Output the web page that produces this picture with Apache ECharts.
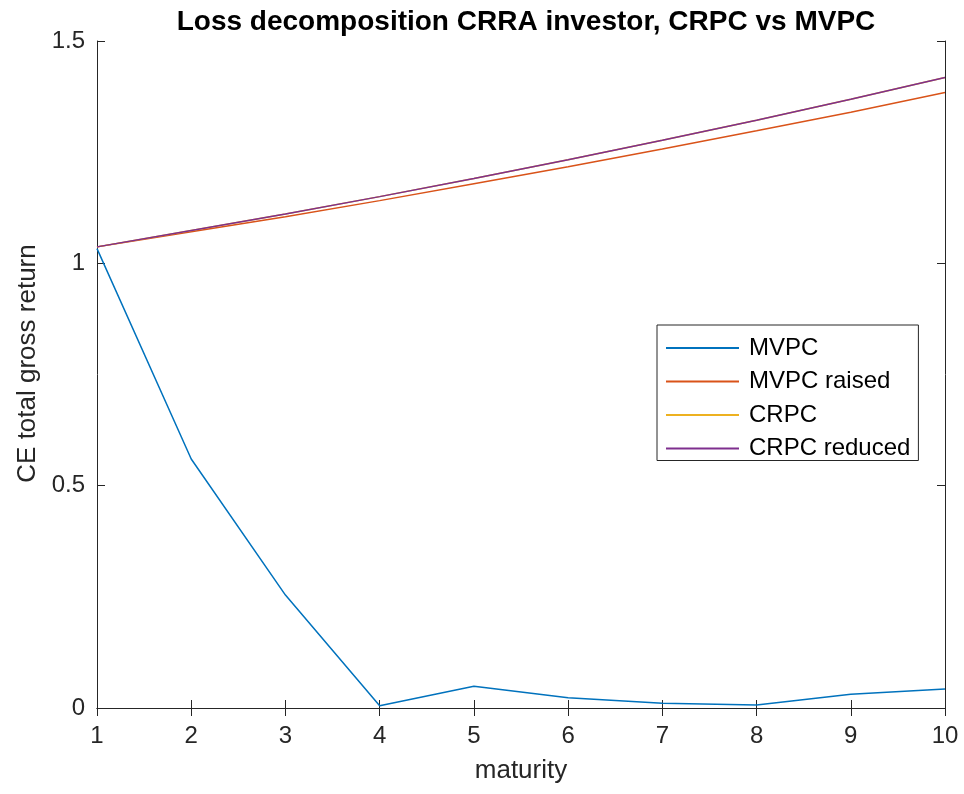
<!DOCTYPE html>
<html>
<head>
<meta charset="utf-8">
<script src="https://cdn.jsdelivr.net/npm/echarts@6/dist/echarts.min.js"></script>
<style>html,body{margin:0;padding:0;background:#fff}#c{width:964px;height:794px}</style>
</head>
<body>
<div id="c"></div>
<script>
const maturity = [1, 2, 3, 4, 5, 6, 7, 8, 9, 10];
const mvpc = [1.033, 0.560, 0.254, 0.005, 0.049, 0.023, 0.0105, 0.0067, 0.031, 0.043];
const mvpcRaised = [1.037, 1.071, 1.105, 1.141, 1.179, 1.217, 1.257, 1.298, 1.340, 1.384];
const crpc = [1.037, 1.074, 1.111, 1.150, 1.191, 1.233, 1.277, 1.322, 1.369, 1.418];
const crpcReduced = [1.037, 1.074, 1.111, 1.150, 1.191, 1.233, 1.277, 1.322, 1.369, 1.418];
const yTicks = [0, 0.5, 1, 1.5];

const txt = '#262626';
const font = 'Liberation Sans, Arial, Helvetica, sans-serif';
const pair = a => a.map((v, i) => [maturity[i], v]);

const chart = echarts.init(document.getElementById('c'), null, {renderer: 'canvas'});
const axLine = {show: true, lineStyle: {color: txt, width: 1}};
const tick = {show: true, inside: true, length: 8, lineStyle: {color: txt, width: 1}};
chart.setOption({
  animation: false,
  backgroundColor: '#fff',
  title: {
    text: 'Loss decomposition CRRA investor, CRPC vs MVPC',
    left: 521, top: 3, textAlign: 'center',
    textStyle: {fontFamily: font, fontWeight: 'bold', fontSize: 28, color: '#000'}
  },
  grid: {left: 97, right: 19, top: 41, bottom: 86, containLabel: false},
  legend: {
    orient: 'vertical', left: 657, top: 325,
    padding: [11, 8, 0, 9],
    borderColor: txt, borderWidth: 1, backgroundColor: '#fff',
    itemWidth: 73, itemHeight: 2, itemGap: 9.5, icon: 'rect',
    textStyle: {fontFamily: font, fontSize: 24, color: '#000', padding: [0, 0, 0, 5]},
    data: ['MVPC', 'MVPC raised', 'CRPC', 'CRPC reduced']
  },
  xAxis: [{
    type: 'value', min: 1, max: 10, interval: 1,
    name: 'maturity', nameLocation: 'middle', nameGap: 50,
    nameTextStyle: {fontFamily: font, fontSize: 26, color: txt},
    axisLine: axLine, axisTick: tick, splitLine: {show: false},
    axisLabel: {fontFamily: font, fontSize: 24, color: txt, margin: 16}
  }, {
    type: 'value', min: 1, max: 10, interval: 1, position: 'top',
    axisLine: axLine, axisTick: tick, splitLine: {show: false},
    axisLabel: {show: false}
  }],
  yAxis: [{
    type: 'value', min: 0, max: 1.5, interval: 0.5,
    name: 'CE total gross return', nameLocation: 'middle', nameGap: 54,
    nameTextStyle: {fontFamily: font, fontSize: 26, color: txt, padding: [0, 0, 0, 22]},
    axisLine: axLine, axisTick: tick, splitLine: {show: false},
    axisLabel: {fontFamily: font, fontSize: 24, color: txt, margin: 12,
      formatter: v => yTicks.includes(v) ? String(v) : ''}
  }, {
    type: 'value', min: 0, max: 1.5, interval: 0.5, position: 'right',
    axisLine: axLine, axisTick: tick, splitLine: {show: false},
    axisLabel: {show: false}
  }],
  series: [
    {name: 'MVPC', type: 'line', data: pair(mvpc), showSymbol: false, lineStyle: {width: 1.5, color: '#0072BD'}, itemStyle: {color: '#0072BD'}},
    {name: 'MVPC raised', type: 'line', data: pair(mvpcRaised), showSymbol: false, lineStyle: {width: 1.5, color: '#D95319'}, itemStyle: {color: '#D95319'}},
    {name: 'CRPC', type: 'line', data: pair(crpc), showSymbol: false, lineStyle: {width: 1.5, color: '#EDB120'}, itemStyle: {color: '#EDB120'}},
    {name: 'CRPC reduced', type: 'line', data: pair(crpcReduced), showSymbol: false, lineStyle: {width: 1.5, color: '#7E2F8E'}, itemStyle: {color: '#7E2F8E'}}
  ]
});
</script>
</body>
</html>
